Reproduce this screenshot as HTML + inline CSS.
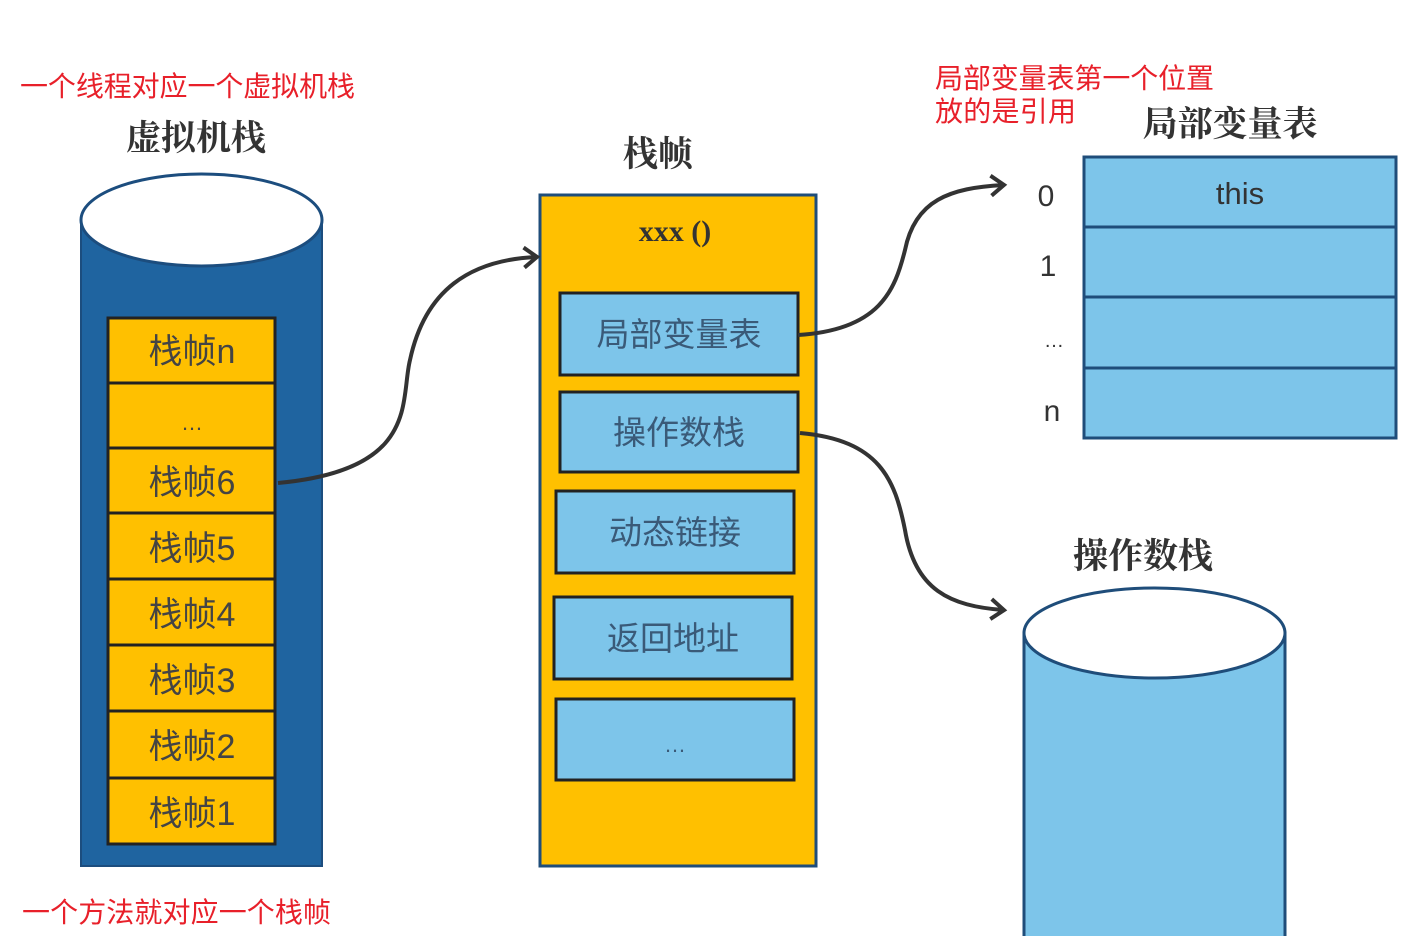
<!DOCTYPE html>
<html><head><meta charset="utf-8"><style>
html,body{margin:0;padding:0;background:#fff;}
svg text{font-family:"Liberation Sans","Noto Sans CJK SC",sans-serif;}
svg text.t{font-family:"Liberation Serif","Noto Serif CJK SC",serif;}
</style></head><body>
<svg width="1418" height="936" viewBox="0 0 1418 936" xmlns="http://www.w3.org/2000/svg">
<defs>
<marker id="ah" markerWidth="20" markerHeight="24" refX="14" refY="12" orient="auto" markerUnits="userSpaceOnUse" viewBox="0 0 20 24">
<path d="M2,2 L15,12 L2,22" fill="none" stroke="#333" stroke-width="4"/>
</marker>
</defs>
<!-- red notes -->
<text x="20" y="96" font-size="28" fill="#e8202a" textLength="335">一个线程对应一个虚拟机栈</text>
<text x="22" y="922" font-size="28" fill="#e8202a" textLength="309">一个方法就对应一个栈帧</text>
<text x="935" y="88" font-size="28" fill="#e8202a" textLength="279">局部变量表第一个位置</text>
<text x="935" y="121" font-size="28" fill="#e8202a" textLength="141">放的是引用</text>
<!-- titles -->
<text class="t" x="196" y="150" font-size="35" font-weight="bold" fill="#333" text-anchor="middle">虚拟机栈</text>
<text class="t" x="658" y="166" font-size="35" font-weight="bold" fill="#333" text-anchor="middle">栈帧</text>
<text class="t" x="1230" y="136" font-size="35" font-weight="bold" fill="#333" text-anchor="middle">局部变量表</text>
<text class="t" x="1143" y="568" font-size="35" font-weight="bold" fill="#333" text-anchor="middle">操作数栈</text>
<!-- left cylinder -->
<path d="M81,220 L81,866 L322,866 L322,220 Z" fill="#1f64a0" stroke="#1c4d7e" stroke-width="2"/>
<ellipse cx="201.5" cy="220" rx="120.5" ry="46" fill="#fff" stroke="#1c4d7e" stroke-width="3"/>
<g stroke="#222" stroke-width="3" fill="#ffc000">
<rect x="108" y="318" width="167" height="526"/>
<line x1="108" y1="383" x2="275" y2="383"/><line x1="108" y1="448" x2="275" y2="448"/>
<line x1="108" y1="513" x2="275" y2="513"/><line x1="108" y1="579" x2="275" y2="579"/>
<line x1="108" y1="645" x2="275" y2="645"/><line x1="108" y1="711" x2="275" y2="711"/>
<line x1="108" y1="778" x2="275" y2="778"/>
</g>
<g font-size="34" fill="#444" text-anchor="middle">
<text x="192" y="363">栈帧n</text>
<text x="192" y="430" font-size="22">…</text>
<text x="192" y="494">栈帧6</text>
<text x="192" y="560">栈帧5</text>
<text x="192" y="626">栈帧4</text>
<text x="192" y="692">栈帧3</text>
<text x="192" y="758">栈帧2</text>
<text x="192" y="825">栈帧1</text>
</g>
<!-- middle frame -->
<rect x="540" y="195" width="276" height="671" fill="#ffc000" stroke="#1f4d7a" stroke-width="3"/>
<text class="t" x="675" y="241" font-size="30" font-weight="bold" fill="#333" text-anchor="middle">xxx ()</text>
<g fill="#7dc5ea" stroke="#222" stroke-width="3">
<rect x="560" y="293" width="238" height="82"/>
<rect x="560" y="392" width="238" height="80"/>
<rect x="556" y="491" width="238" height="82"/>
<rect x="554" y="597" width="238" height="82"/>
<rect x="556" y="699" width="238" height="81"/>
</g>
<g font-size="33" fill="#3a5a78" text-anchor="middle">
<text x="679" y="346">局部变量表</text>
<text x="679" y="444">操作数栈</text>
<text x="675" y="544">动态链接</text>
<text x="673" y="650">返回地址</text>
<text x="675" y="752" font-size="22">…</text>
</g>
<!-- right table -->
<g fill="#7dc5ea" stroke="#1f4d7a" stroke-width="3">
<rect x="1084" y="157" width="312" height="70"/>
<rect x="1084" y="227" width="312" height="70"/>
<rect x="1084" y="297" width="312" height="71"/>
<rect x="1084" y="368" width="312" height="70"/>
</g>
<text x="1240" y="204" font-size="31" fill="#333" text-anchor="middle">this</text>
<g font-size="30" fill="#333" text-anchor="middle">
<text x="1046" y="206">0</text>
<text x="1048" y="276">1</text>
<text x="1054" y="347" font-size="20">…</text>
<text x="1052" y="421">n</text>
</g>
<!-- right cylinder -->
<path d="M1024,633 L1024,940 L1285,940 L1285,633 Z" fill="#7dc5ea" stroke="#1f4d7a" stroke-width="3"/>
<ellipse cx="1154.5" cy="633" rx="130.5" ry="45" fill="#fff" stroke="#1f4d7a" stroke-width="3"/>
<!-- connectors -->
<g fill="none" stroke="#333" stroke-width="4" marker-end="url(#ah)">
<path d="M278,483 C420,470 400,400 410,360 C425,290 470,260 536,257"/>
<path d="M798,335 C880,330 895,290 905,250 C915,200 950,188 1003,185"/>
<path d="M800,433 C880,440 895,480 905,530 C915,590 950,606 1003,610"/>
</g>
</svg>
</body></html>
